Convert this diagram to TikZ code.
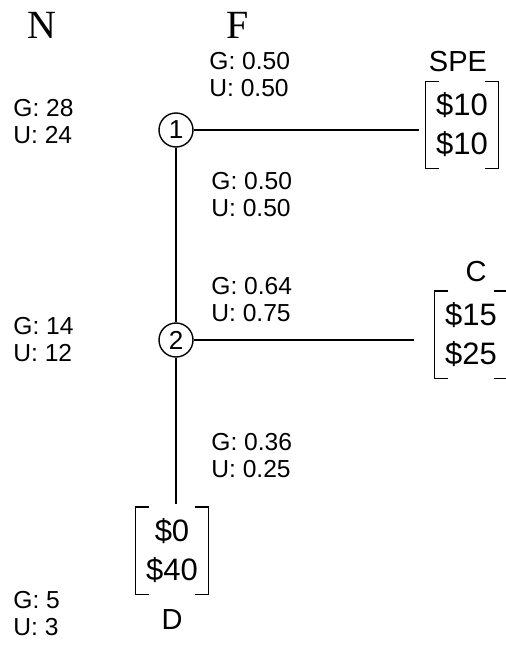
\documentclass[tikz,border=0pt]{standalone}
\usepackage{fontspec}
\setmainfont{Liberation Sans}
\newfontfamily\headfont{Liberation Serif}
\begin{document}
\begin{tikzpicture}[x=0.5pt, y=-0.5pt, line width=0.7pt,
    every node/.style={font=\fontsize{12.3}{13.5}\selectfont},
    chance/.style={circle, draw, minimum size=17pt, inner sep=0pt, font=\fontsize{13}{13}\selectfont},
    payoff/.style={minimum width=36pt, minimum height=43pt, inner sep=0pt, align=center, font=\fontsize{15.5}{19.5}\selectfont},
    outcome/.style={font=\fontsize{14.5}{14.5}\selectfont},
    prob/.style={anchor=west, align=left}]
    \useasboundingbox (0,0) rectangle (505,652);

    % players
    \node(hn)[font=\headfont\fontsize{20}{20}\selectfont] at (42,25) {N};
    \node(hf)[font=\headfont\fontsize{20}{20}\selectfont] at (238,25) {F};

    % chance nodes
    \node(n1)[chance] at (176,130) {1};
    \node(n2)[chance] at (176,340) {2};

    % payoffs
    \node(spe)[payoff] at (462,125) {\$10\\\$10};
    \node(c)[payoff] at (471,334.5) {\$15\\\$25};
    \node(d)[payoff] at (172,550.5) {\$0\\\$40};
    \node(spel)[outcome] at (458,62) {SPE};
    \node(cl)[outcome] at (476,272) {C};
    \node(dl)[outcome] at (172,620) {D};

    \foreach \p in {spe,c,d}
    {\draw([xshift=7pt]\p.north west) -| (\p.south west) -- ++(14,0);
    \draw([xshift=-7pt]\p.north east) -| (\p.south east) -- ++(-14,0);}

    % branches
    \draw(n1) -- ([xshift=-3pt]n1 -| spe.west);
    \draw(n1) -- (n2);
    \draw(n2) -- ([xshift=-10pt]n2 -| c.west);
    \draw(n2) -- ([yshift=1.5pt]n2 |- d.north);

    % probabilities
    \node(p1)[prob] at (202,75) {G: 0.50\\U: 0.50};
    \node(p2)[prob] at (204,195) {G: 0.50\\U: 0.50};
    \node(p3)[prob] at (204,300) {G: 0.64\\U: 0.75};
    \node(p4)[prob] at (204,456) {G: 0.36\\U: 0.25};

    % values
    \node(v1)[prob] at (6,122) {G: 28\\U: 24};
    \node(v2)[prob] at (6,340) {G: 14\\U: 12};
    \node(v3)[prob] at (6,614) {G: 5\\U: 3};
\end{tikzpicture}
\end{document}
